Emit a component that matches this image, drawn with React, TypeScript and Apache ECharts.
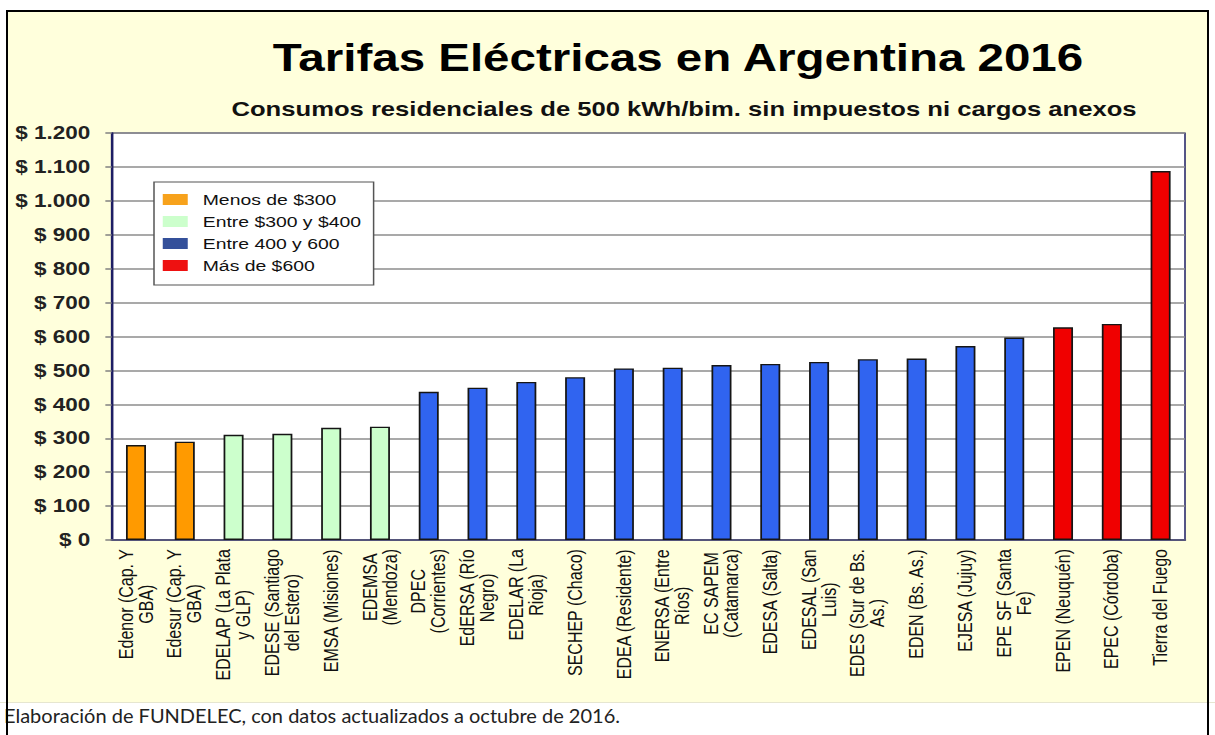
import React, { useEffect, useRef } from "react";
import * as echarts from "echarts";

// ---- data ----
const categories: string[] = [
  "Edenor (Cap. Y\nGBA)",
  "Edesur (Cap. Y\nGBA)",
  "EDELAP (La Plata\ny GLP)",
  "EDESE (Santiago\ndel Estero)",
  "EMSA (Misiones)",
  "EDEMSA\n(Mendoza)",
  "DPEC\n(Corrientes)",
  "EdERSA (Río\nNegro)",
  "EDELAR (La\nRioja)",
  "SECHEP (Chaco)",
  "EDEA (Residente)",
  "ENERSA (Entre\nRíos)",
  "EC SAPEM\n(Catamarca)",
  "EDESA (Salta)",
  "EDESAL (San\nLuis)",
  "EDES (Sur de Bs.\nAs.)",
  "EDEN (Bs. As.)",
  "EJESA (Jujuy)",
  "EPE SF (Santa\nFe)",
  "EPEN (Neuquén)",
  "EPEC (Córdoba)",
  "Tierra del Fuego",
];
const tariffs: number[] = [
  280, 290, 310, 313, 331, 334, 437, 449, 466, 480, 506, 508, 516, 519, 525,
  533, 535, 572, 597, 627, 637, 1088,
];
const groupNames: string[] = [
  "Menos de $300",
  "Entre $300 y $400",
  "Entre 400 y 600",
  "Más de $600",
];
const groupUpperLimits: number[] = [300, 400, 600.5, Infinity];
const yTickLabels: string[] = [
  "$ 0", "$ 100", "$ 200", "$ 300", "$ 400", "$ 500", "$ 600",
  "$ 700", "$ 800", "$ 900", "$ 1.000", "$ 1.100", "$ 1.200",
];
const titleText = "Tarifas Eléctricas en Argentina 2016";
const subtitleText =
  "Consumos residenciales de 500 kWh/bim. sin impuestos ni cargos anexos";
const captionText =
  "Elaboración de FUNDELEC, con datos actualizados a octubre de 2016.";

// ---- styles ----
const barColors = ["#ff9a00", "#ccffcc", "#3064f0", "#f00000"];
const legendColors = ["#f7a21c", "#ccffcc", "#34509a", "#ee1111"];
const S = 1.25; // horizontal stretch of the original picture
const PAGE_W = 1215;
const PAGE_H = 735;
const FONT = "'Liberation Sans', Arial, sans-serif";

export default function App() {
  const ref = useRef<HTMLDivElement | null>(null);

  useEffect(() => {
    document.body.style.margin = "0";
    if (!ref.current) return;
    const chart = echarts.init(ref.current, undefined, { renderer: "svg" });
    const W = PAGE_W / S;

    const groupOf = (v: number) => groupUpperLimits.findIndex((u) => v < u);

    const option: any = {
      animation: false,
      backgroundColor: "#ffffdc",
      title: [
        {
          text: titleText,
          left: 678 / S,
          top: 39,
          textAlign: "center",
          padding: 0,
          textStyle: { fontFamily: FONT, fontSize: 38, fontWeight: "bold", color: "#000" },
        },
        {
          text: subtitleText,
          left: 684 / S,
          top: 98,
          textAlign: "center",
          padding: 0,
          textStyle: { fontFamily: FONT, fontSize: 20.5, fontWeight: "bold", color: "#111" },
        },
      ],
      legend: {
        orient: "vertical",
        left: 154 / S,
        top: 182,
        padding: [9, 10, 11, 7],
        itemWidth: 20,
        itemHeight: 11,
        itemGap: 5,
        backgroundColor: "#ffffff",
        borderColor: "#555555",
        borderWidth: 1.2,
        textStyle: { fontFamily: FONT, fontSize: 15.5, color: "#111", lineHeight: 17, padding: [0, 0, 0, 7] },
        data: groupNames.map((n, i) => ({
          name: n,
          icon: "rect",
          itemStyle: { color: legendColors[i], borderWidth: 0 },
        })),
      },
      grid: {
        left: 111.6 / S,
        right: (PAGE_W - 1185) / S,
        top: 133,
        bottom: PAGE_H - 540,
        show: true,
        backgroundColor: "#ffffff",
        borderColor: "#1e1e64",
        borderWidth: 1.2,
      },
      xAxis: {
        type: "category",
        data: categories,
        axisLine: { lineStyle: { color: "#55557a", width: 2 } },
        axisTick: { length: 5, lineStyle: { color: "#55557a", width: 1.5 } },
        axisLabel: {
          interval: 0,
          rotate: 90,
          margin: 9,
          formatter: (v: string) => v.split("\n").map((l) => `{c|${l}}`).join("\n"),
          rich: {
            c: { align: "center", fontFamily: FONT, fontSize: 16, lineHeight: 16, color: "#111" },
          },
        },
      },
      yAxis: {
        type: "value",
        min: 0,
        max: 1200,
        interval: 100,
        axisLine: { show: true, lineStyle: { color: "#1e1e64", width: 1.5 } },
        axisTick: { show: true, length: 5, lineStyle: { color: "#808080", width: 1.5 } },
        axisLabel: {
          formatter: (v: number) => yTickLabels[Math.round(v / 100)],
          fontFamily: FONT,
          fontWeight: "bold",
          fontSize: 18,
          color: "#222",
          margin: 17,
        },
        splitLine: { lineStyle: { color: "#8c8c8c", width: 1.5 } },
      },
      series: groupNames.map((name, k) => ({
        type: "bar",
        name,
        barWidth: 20 / S,
        barGap: "-100%",
        data: tariffs.map((v) => (groupOf(v) === k ? v : "-")),
        itemStyle: { color: barColors[k], borderColor: "#151515", borderWidth: 1.4 },
      })),
      graphic: [
        { type: "rect", silent: true, shape: { x: 0, y: 0, width: W, height: 10.5 }, style: { fill: "#fff" } },
        { type: "rect", silent: true, shape: { x: 0, y: 0, width: 7 / S, height: PAGE_H }, style: { fill: "#fff" } },
        { type: "rect", silent: true, shape: { x: 1207 / S, y: 0, width: 8 / S, height: PAGE_H }, style: { fill: "#fff" } },
        { type: "rect", silent: true, shape: { x: 0, y: 703, width: W, height: 32 }, style: { fill: "#fff" } },
        { type: "rect", silent: true, shape: { x: 0, y: 702, width: W, height: 1 }, style: { fill: "#e6e6d0" } },
        {
          type: "text",
          x: 4 / S,
          y: 715,
          scaleX: 1 / S,
          z: 10,
          style: { text: captionText, font: "20px Lato, 'Open Sans', sans-serif", fill: "#222", verticalAlign: "middle" },
        },
      ],
    };
    chart.setOption(option);
    return () => chart.dispose();
  }, []);

  const border = (l: number, t: number, w: number, h: number): React.CSSProperties => ({
    position: "absolute",
    left: l,
    top: t,
    width: w,
    height: h,
    background: "#000",
    pointerEvents: "none",
  });

  return (
    <div style={{ position: "relative", width: PAGE_W, height: PAGE_H, overflow: "hidden", background: "#fff" }}>
      <div
        ref={ref}
        style={{
          position: "absolute",
          left: 0,
          top: 0,
          width: PAGE_W / S,
          height: PAGE_H,
          transform: `scaleX(${S})`,
          transformOrigin: "0 0",
        }}
      />
      <div style={border(6, 9.5, 1203, 2)} />
      <div style={border(6, 9.5, 2, PAGE_H)} />
      <div style={border(1207, 9.5, 2, PAGE_H)} />
    </div>
  );
}
